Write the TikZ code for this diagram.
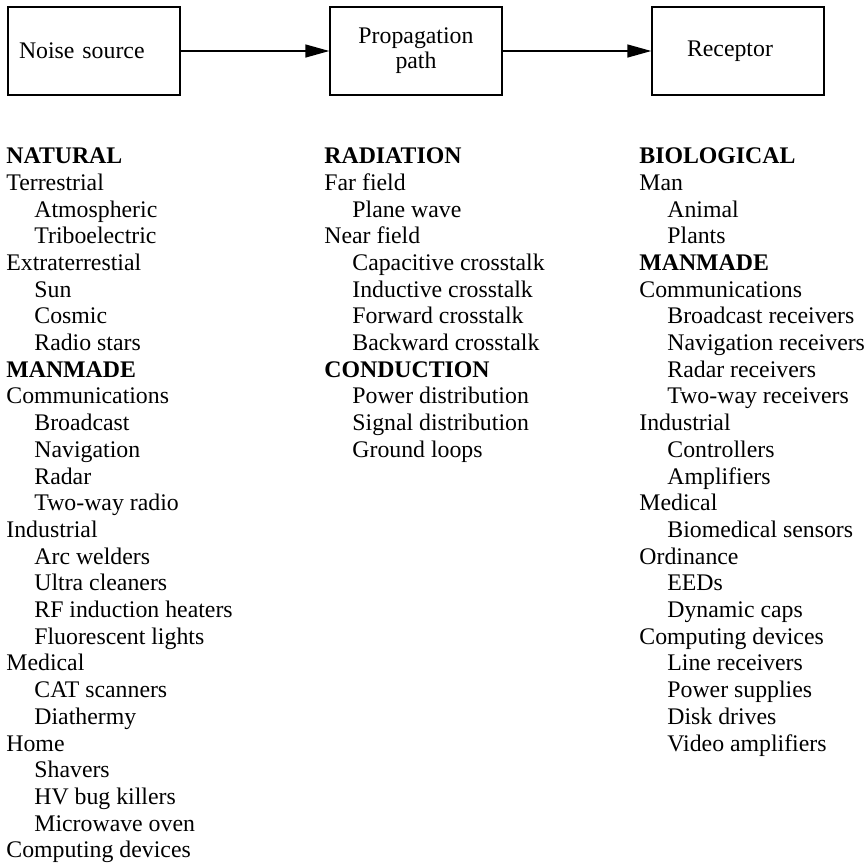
\documentclass[tikz,border=0pt]{standalone}
\usepackage{fontspec}
\setmainfont{Liberation Serif}
\usetikzlibrary{arrows.meta, positioning}

\newcommand{\ind}{\hspace*{14pt}}

\begin{document}
\begin{tikzpicture}[x=0.5pt, y=-0.5pt, >={Triangle[length=12pt, width=6.5pt]},
  blk/.style={draw, line width=0.7pt, minimum width=86pt, minimum height=44pt, inner sep=0pt},
  lst/.style={anchor=north west, align=left, inner sep=0pt}]
\fontsize{11.9pt}{13.35pt}\selectfont
\useasboundingbox (0,0) rectangle (866,863);
\node[blk, align=left, text width=75pt, inner xsep=5.5pt] at (94, 51) (src) {Noise source};
\node[blk, align=center, font=\fontsize{11.9pt}{12.5pt}\selectfont] at (416, 51) (path) {Propagation\\path};
\node[blk, align=left, text width=51pt, inner xsep=17.5pt] at (738, 51) (rcp) {Receptor};
\draw[->, line width=0.7pt] (src) -- (path);
\draw[->, line width=0.7pt] (path) -- (rcp);

\node[lst] at (6, 147.5) (natural) {\textbf{NATURAL}\\Terrestrial\\\ind Atmospheric\\\ind Triboelectric\\
  Extraterrestial\\\ind Sun\\\ind Cosmic\\\ind Radio stars\\\textbf{MANMADE}\\Communications\\
  \ind Broadcast\\\ind Navigation\\\ind Radar\\\ind Two-way radio\\Industrial\\\ind Arc welders\\
  \ind Ultra cleaners\\\ind RF induction heaters\\\ind Fluorescent lights\\Medical\\
  \ind CAT scanners\\\ind Diathermy\\Home\\\ind Shavers\\\ind HV bug killers\\
  \ind Microwave oven\\Computing devices};
\node[lst] at (324, 147.5) (radiation) {\textbf{RADIATION}\\Far field\\\ind Plane wave\\Near field\\
  \ind Capacitive crosstalk\\\ind Inductive crosstalk\\\ind Forward crosstalk\\
  \ind Backward crosstalk\\\textbf{CONDUCTION}\\\ind Power distribution\\
  \ind Signal distribution\\\ind Ground loops};
\node[lst] at (639, 147.5) (biological) {\textbf{BIOLOGICAL}\\Man\\\ind Animal\\\ind Plants\\
  \textbf{MANMADE}\\Communications\\\ind Broadcast receivers\\\ind Navigation receivers\\
  \ind Radar receivers\\\ind Two-way receivers\\Industrial\\\ind Controllers\\\ind Amplifiers\\
  Medical\\\ind Biomedical sensors\\Ordinance\\\ind EEDs\\\ind Dynamic caps\\
  Computing devices\\\ind Line receivers\\\ind Power supplies\\\ind Disk drives\\
  \ind Video amplifiers};
\end{tikzpicture}
\end{document}
